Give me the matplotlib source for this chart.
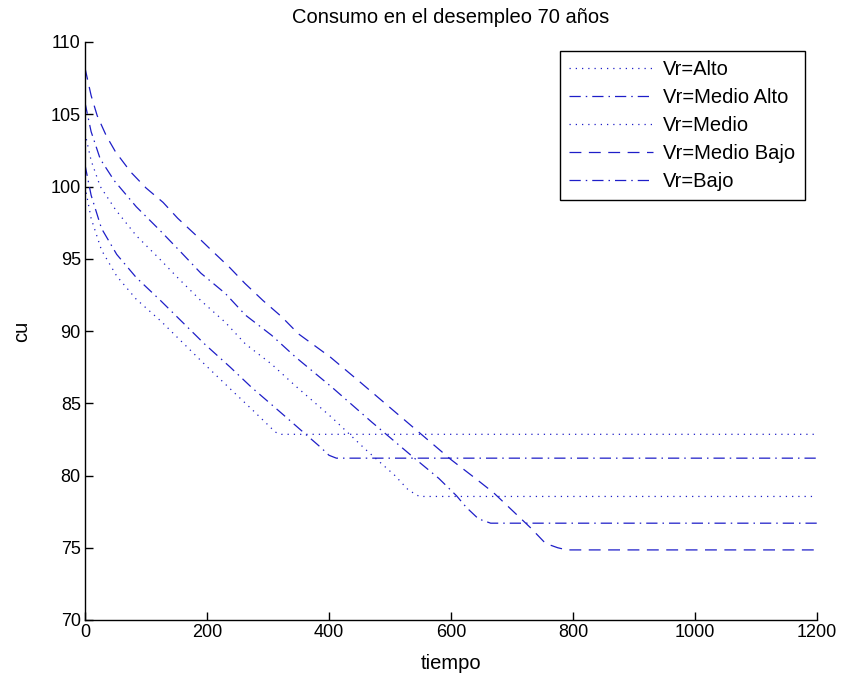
import matplotlib
matplotlib.use("Agg")
import matplotlib.pyplot as plt

# ---- data ----
x_alto = [0, 10, 27, 52, 84, 124, 160, 196, 238, 273, 300, 312, 322, 1200]
y_alto = [100.0, 97.8, 95.6, 93.8, 92.2, 90.7, 89.2, 87.7, 86.0, 84.6, 83.5, 83.0, 82.85, 82.85]

x_medio_alto = [0, 10, 27, 52, 84, 124, 160, 196, 238, 273, 317, 355, 385, 400, 412, 1200]
y_medio_alto = [101.5, 99.4, 97.1, 95.3, 93.7, 92.1, 90.6, 89.1, 87.5, 86.1, 84.5, 83.1, 82.0, 81.4, 81.2, 81.2]

x_medio = [0, 10, 25, 50, 84, 122, 154, 190, 230, 263, 306, 345, 405, 460, 508, 530, 548, 1200]
y_medio = [103.7, 101.8, 100.0, 98.4, 96.6, 95.0, 93.6, 92.1, 90.6, 89.1, 87.7, 86.2, 84.0, 81.8, 80.0, 79.0, 78.55, 78.55]

x_medio_bajo = [0, 10, 20, 35, 50, 75, 100, 128, 152, 180, 207, 237, 262, 292, 322, 350, 402, 450, 500, 550, 600, 640, 670, 700, 730, 755, 775, 790, 1200]
y_medio_bajo = [108.2, 106.3, 104.9, 103.5, 102.4, 101.0, 99.9, 98.9, 97.8, 96.7, 95.6, 94.4, 93.3, 92.1, 91.0, 89.8, 88.2, 86.5, 84.7, 82.9, 81.1, 79.8, 78.8, 77.6, 76.4, 75.3, 75.0, 74.85, 74.85]

x_bajo = [0, 10, 25, 48, 84, 122, 154, 190, 230, 263, 306, 345, 405, 470, 540, 580, 609, 625, 645, 665, 1200]
y_bajo = [105.8, 103.8, 101.9, 100.4, 98.6, 97.0, 95.6, 94.0, 92.6, 91.1, 89.7, 88.2, 86.1, 83.7, 81.2, 79.8, 78.6, 77.8, 77.0, 76.7, 76.7]

labels = ["Vr=Alto", "Vr=Medio Alto", "Vr=Medio", "Vr=Medio Bajo", "Vr=Bajo"]
x_ticks = [0, 200, 400, 600, 800, 1000, 1200]
y_ticks = [70, 75, 80, 85, 90, 95, 100, 105, 110]

# ---- styling ----
plt.rcParams['font.family'] = ['Liberation Sans', 'DejaVu Sans']
color = '#1e1ec8'
lw = 0.9
dot = (0, (1.0, 4.0))
dashdot = (0, (9.0, 4.0, 1.2, 4.0))
dashed = (0, (9.5, 6.0))

fig = plt.figure(figsize=(8.45, 6.83), dpi=100)
ax = fig.add_axes([85/845, 63/683, 732/845, 578/683])

ax.plot(x_alto, y_alto, color=color, lw=lw, linestyle=dot, label=labels[0])
ax.plot(x_medio_alto, y_medio_alto, color=color, lw=lw, linestyle=dashdot, label=labels[1])
ax.plot(x_medio, y_medio, color=color, lw=lw, linestyle=dot, label=labels[2])
ax.plot(x_medio_bajo, y_medio_bajo, color=color, lw=lw, linestyle=dashed, label=labels[3])
ax.plot(x_bajo, y_bajo, color=color, lw=lw, linestyle=dashdot, label=labels[4])

ax.set_xlim(0, 1200)
ax.set_ylim(70, 110)
ax.set_xticks(x_ticks)
ax.set_yticks(y_ticks)
ax.spines['top'].set_visible(False)
ax.spines['right'].set_visible(False)
for s in ('left', 'bottom'):
    ax.spines[s].set_linewidth(1.0)
    ax.spines[s].set_color('black')
ax.tick_params(direction='in', length=6, width=1.0, labelsize=13, colors='black', pad=3)

ax.set_title("Consumo en el desempleo 70 años", fontsize=14.5, pad=14)
ax.set_xlabel("tiempo", fontsize=14.5, labelpad=9)
ax.set_ylabel("cu", fontsize=14.5, labelpad=14)

leg = ax.legend(loc='upper right', bbox_to_anchor=(0.983, 0.985), borderaxespad=0,
                fontsize=14.5, handlelength=4.2, handletextpad=0.5, labelspacing=0.45,
                borderpad=0.45, fancybox=False, framealpha=1, edgecolor='black')
leg.get_frame().set_linewidth(1.0)

fig.savefig("out.png", dpi=100, facecolor='white')
